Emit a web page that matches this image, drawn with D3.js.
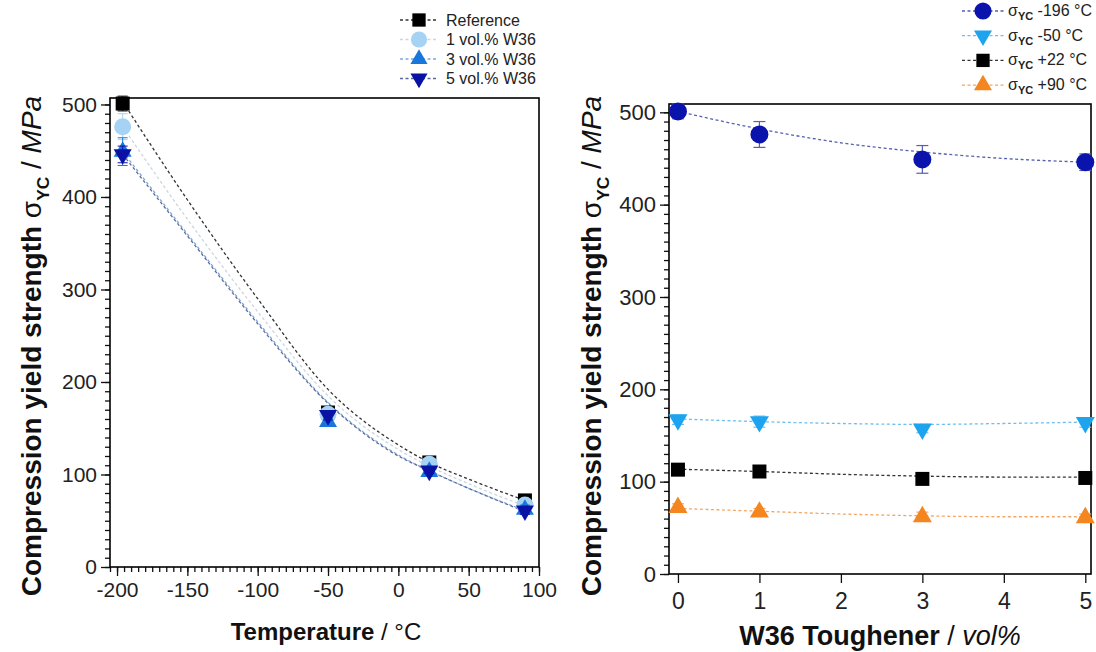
<!DOCTYPE html>
<html>
<head>
<meta charset="utf-8">
<script src="https://cdn.jsdelivr.net/npm/d3@7"></script>
<style>
  body { margin: 0; background: #fff; }
  svg { font-family: "Liberation Sans", Arial, sans-serif; }
</style>
</head>
<body>
<div class="canva"></div>
<script>
// measured points
const temps = [-196, -50, 22, 90];
const vols = [0, 1, 3, 5];
const seriesNames = ["Reference", "1 vol.% W36", "3 vol.% W36", "5 vol.% W36"];
const refVals = [501, 167, 113, 72];
const v1Vals = [476, 165, 111, 67];
const v3Vals = [449, 157, 103, 62];
const v5Vals = [446, 164, 104, 61];
const refErr = [8, 5, 4, 4];
const v1Err = [14, 6, 4, 4];
const v3Err = [15, 4, 3, 5];
const v5Err = [9, 5, 3, 4];

// fit curves
const fitTemps = [-196, -150, -100, -50, 0, 22, 50, 90];
const refFit = [503, 397, 290, 192, 132, 113, 95, 72];
const v1Fit = [476, 376, 276, 185, 127, 109, 90, 66];
const v3Fit = [449, 360, 265, 178, 121, 104, 85, 61];
const v5Fit = [446, 358, 263, 177, 120, 104, 85, 60];

// fit curves
const fitVols = [0, 1, 2, 3, 4, 5];
const fitM196 = [501, 482, 467, 457, 450, 446];
const fitM50 = [168, 165, 163, 162, 163, 164.5];
const fitP22 = [113.5, 111, 108, 106, 105, 105];
const fitP90 = [71, 68, 65, 63, 62, 62];
const tempNames = ["-196 °C", "-50 °C", "+22 °C", "+90 °C"];

const leftXTicks = [-200, -150, -100, -50, 0, 50, 100];
const yTicks = [0, 100, 200, 300, 400, 500];
const rightXTicks = [0, 1, 2, 3, 4, 5];

const svg = d3.select(".canva").append("svg")
  .attr("width", 1096).attr("height", 652);

// marker helper
function marker(g, type, color, size) {
  if (type === "circle") {
    g.append("circle").attr("r", size * 0.5).attr("fill", color);
  } else {
    const sym = type === "square" ? d3.symbolSquare : d3.symbolTriangle;
    const area = type === "square" ? size * size : size * size * 0.433;
    g.append("path")
      .attr("d", d3.symbol().type(sym).size(area)())
      .attr("fill", color)
      .attr("transform", type === "down" ? "rotate(180)" : null);
  }
}

// plain hyphen minus like the original figure
const fmt = d => String(d);

function drawAxes(g, x, y, xTicks, xMinor, yMinor, opts) {
  const r = x.range(), yr = y.range();
  // minor y ticks
  g.append("g").attr("transform", `translate(${r[0]},0)`)
    .call(d3.axisLeft(y).tickValues(yMinor).tickSize(5).tickFormat(""))
    .call(a => a.select(".domain").remove());
  g.append("g").attr("transform", `translate(${r[0]},0)`)
    .call(d3.axisLeft(y).tickValues(yTicks).tickSize(9).tickPadding(4).tickFormat(fmt))
    .call(a => a.select(".domain").remove())
    .selectAll("text").attr("font-size", opts.yfs).attr("fill", "#222");
  if (xMinor) {
    g.append("g").attr("transform", `translate(0,${yr[0]})`)
      .call(d3.axisBottom(x).tickValues(xMinor).tickSize(5).tickFormat(""))
      .call(a => a.select(".domain").remove());
  }
  g.append("g").attr("transform", `translate(0,${yr[0]})`)
    .call(d3.axisBottom(x).tickValues(xTicks).tickSize(9).tickPadding(opts.pad).tickFormat(fmt))
    .call(a => a.select(".domain").remove())
    .selectAll("text").attr("font-size", opts.fs).attr("fill", "#222");
  g.selectAll(".tick line").attr("stroke", "#111").attr("stroke-width", 1.3);
  g.append("rect")
    .attr("x", r[0]).attr("y", yr[1])
    .attr("width", r[1] - r[0]).attr("height", yr[0] - yr[1])
    .attr("fill", "none").attr("stroke", "#000").attr("stroke-width", 1.6);
}

function yTitle(cx, cy, fs) {
  const t = svg.append("text")
    .attr("transform", `translate(${cx},${cy}) rotate(-90)`)
    .attr("text-anchor", "middle").attr("font-size", fs).attr("fill", "#111");
  t.append("tspan").attr("font-weight", "bold").text("Compression yield strength ");
  t.append("tspan").text("σ");
  t.append("tspan").attr("font-size", fs * 0.62).attr("dy", fs * 0.28).attr("font-weight", "bold").text("YC");
  t.append("tspan").attr("dy", -fs * 0.28).text(" / ");
  t.append("tspan").attr("font-style", "italic").text("MPa");
}

const ySub = d3.range(0, 510, 10);

// ---------------- left panel ----------------
const xL = d3.scaleLinear().domain([-205, 100]).range([110, 539]);
const yL = d3.scaleLinear().domain([0, 507]).range([567, 98]);
const gL = svg.append("g");
drawAxes(gL, xL, yL, leftXTicks, d3.range(-205, 101, 5), ySub, {fs: 21, yfs: 21, pad: 6});

const leftSeries = [
  {name: seriesNames[0], vals: refVals, err: refErr, fit: refFit, type: "square", color: "#000000", line: "#333", size: 14},
  {name: seriesNames[1], vals: v1Vals, err: v1Err, fit: v1Fit, type: "circle", color: "#a6d3f3", line: "#c9d6e0", size: 17},
  {name: seriesNames[2], vals: v3Vals, err: v3Err, fit: v3Fit, type: "up", color: "#1876dc", line: "#7fa8d6", size: 18},
  {name: seriesNames[3], vals: v5Vals, err: v5Err, fit: v5Fit, type: "down", color: "#0a12a6", line: "#5a6a9a", size: 18}
];

const lineL = d3.line().x((d, i) => xL(fitTemps[i])).y(d => yL(d)).curve(d3.curveMonotoneX);
leftSeries.forEach(s => {
  gL.append("path").attr("d", lineL(s.fit)).attr("fill", "none")
    .attr("stroke", s.line).attr("stroke-width", 1.3).attr("stroke-dasharray", "3,2.5");
});
leftSeries.forEach(s => {
  temps.forEach((t, i) => {
    const cx = xL(t), cy = yL(s.vals[i]);
    const eb = gL.append("g").attr("stroke", s.color).attr("stroke-width", 1);
    eb.append("line").attr("x1", cx).attr("x2", cx).attr("y1", yL(s.vals[i] + s.err[i])).attr("y2", yL(s.vals[i] - s.err[i]));
    [s.err[i], -s.err[i]].forEach(e => eb.append("line").attr("x1", cx - 5).attr("x2", cx + 5)
      .attr("y1", yL(s.vals[i] + e)).attr("y2", yL(s.vals[i] + e)));
    marker(gL.append("g").attr("transform", `translate(${cx},${cy})`), s.type, s.color, s.size);
  });
});

const xtL = svg.append("text").attr("x", 326).attr("y", 640).attr("text-anchor", "middle")
  .attr("font-size", 24).attr("fill", "#111");
xtL.append("tspan").attr("font-weight", "bold").text("Temperature");
xtL.append("tspan").text(" / °C");
yTitle(41, 346, 28);

// left legend
const legL = svg.append("g");
leftSeries.forEach((s, i) => {
  const yy = 20 + i * 19.5;
  legL.append("line").attr("x1", 400).attr("x2", 438).attr("y1", yy).attr("y2", yy)
    .attr("stroke", s.line).attr("stroke-width", 1.3).attr("stroke-dasharray", "3,2.5");
  marker(legL.append("g").attr("transform", `translate(419,${yy})`), s.type, s.color, s.size * 0.95);
  legL.append("text").attr("x", 446).attr("y", yy + 5.5).attr("font-size", 16).attr("fill", "#222").text(s.name);
});

// ---------------- right panel ----------------
const xR = d3.scaleLinear().domain([-0.11, 5.07]).range([669, 1091]);
const yR = d3.scaleLinear().domain([0, 509]).range([574, 104]);
const gR = svg.append("g");
drawAxes(gR, xR, yR, rightXTicks, null, ySub, {fs: 23, yfs: 22, pad: 10});

const allVals = [refVals, v1Vals, v3Vals, v5Vals];
const allErr = [refErr, v1Err, v3Err, v5Err];
const rightSeries = [
  {name: tempNames[0], fit: fitM196, type: "circle", color: "#0a14ad", line: "#5560b0", size: 18},
  {name: tempNames[1], fit: fitM50, type: "down", color: "#1ea4ef", line: "#6cbfef", size: 19},
  {name: tempNames[2], fit: fitP22, type: "square", color: "#000000", line: "#333", size: 14},
  {name: tempNames[3], fit: fitP90, type: "up", color: "#f5851f", line: "#f2a765", size: 19}
];
const lineR = d3.line().x((d, i) => xR(fitVols[i])).y(d => yR(d)).curve(d3.curveMonotoneX);
rightSeries.forEach((s, ti) => {
  gR.append("path").attr("d", lineR(s.fit)).attr("fill", "none")
    .attr("stroke", s.line).attr("stroke-width", 1.3).attr("stroke-dasharray", "3,2.5");
  vols.forEach((v, vi) => {
    const val = allVals[vi][ti], er = allErr[vi][ti];
    const cx = xR(v), cy = yR(val);
    const eb = gR.append("g").attr("stroke", s.line).attr("stroke-width", 1.2);
    eb.append("line").attr("x1", cx).attr("x2", cx).attr("y1", yR(val + er)).attr("y2", yR(val - er));
    [er, -er].forEach(e => eb.append("line").attr("x1", cx - 6).attr("x2", cx + 6)
      .attr("y1", yR(val + e)).attr("y2", yR(val + e)));
    marker(gR.append("g").attr("transform", `translate(${cx},${cy})`), s.type, s.color, s.size);
  });
});

const xtR = svg.append("text").attr("x", 880).attr("y", 645).attr("text-anchor", "middle")
  .attr("font-size", 27).attr("fill", "#111");
xtR.append("tspan").attr("font-weight", "bold").text("W36 Toughener");
xtR.append("tspan").text(" / ");
xtR.append("tspan").attr("font-style", "italic").text("vol%");
yTitle(601, 346, 28);

// right legend
const legR = svg.append("g");
rightSeries.forEach((s, i) => {
  const yy = 11 + i * 24.7;
  legR.append("line").attr("x1", 962).attr("x2", 1004).attr("y1", yy).attr("y2", yy)
    .attr("stroke", s.line).attr("stroke-width", 1.3).attr("stroke-dasharray", "3,2.5");
  marker(legR.append("g").attr("transform", `translate(983,${yy})`), s.type, s.color, s.size * 0.95);
  const t = legR.append("text").attr("x", 1008).attr("y", yy + 5).attr("font-size", 16).attr("fill", "#222");
  t.append("tspan").text("σ");
  t.append("tspan").attr("font-size", 11).attr("font-weight", "bold").attr("dy", 4).text("YC");
  t.append("tspan").attr("dy", -4).text(" " + s.name);
});
</script>
</body>
</html>
